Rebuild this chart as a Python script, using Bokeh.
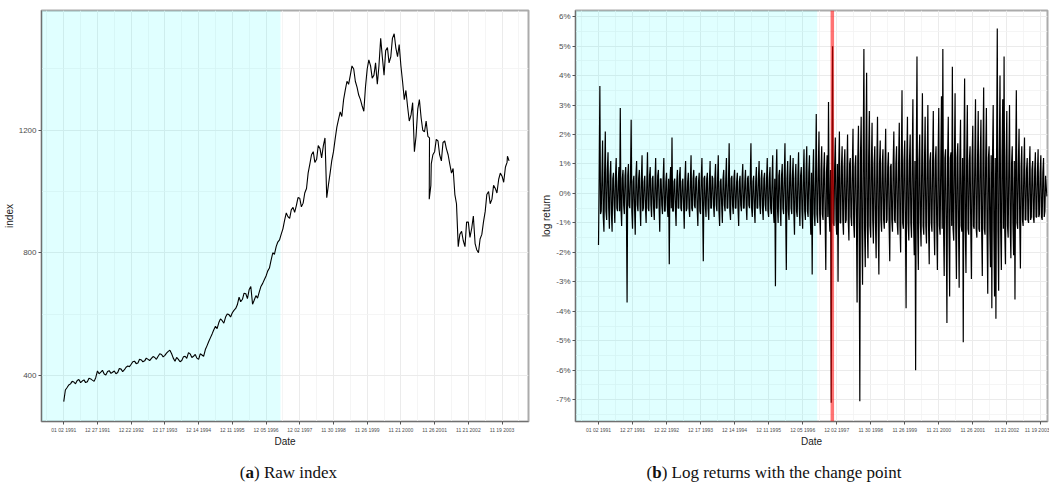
from bokeh.plotting import figure
from bokeh.models import FixedTicker, Span, Div, Range1d, BoxAnnotation
from bokeh.layouts import column, row
from bokeh.embed import file_html
from bokeh.resources import INLINE

# ---------------- data ----------------
tick_days = [0, 250, 500, 750, 1000, 1250, 1500, 1750, 2000, 2250, 2500, 2750, 3000, 3250]
tick_labels = ["01 02 1991", "12 27 1991", "12 22 1992", "12 17 1993", "12 14 1994",
               "12 11 1995", "12 05 1996", "12 02 1997", "11 30 1998", "11 26 1999",
               "11 21 2000", "11 26 2001", "11 21 2002", "11 19 2003"]
shade_end_day = 1607
change_day = 1718

index_days = [0, 25, 50, 75, 100, 125, 150, 175, 200, 225, 250, 275, 300, 325, 350, 375, 400,
              425, 450, 475, 500, 525, 550, 575, 600, 625, 650, 675, 700, 725, 750, 775, 800,
              825, 850, 875, 900, 925, 950, 975, 1000, 1025, 1050, 1075, 1100, 1125, 1150,
              1175, 1200, 1225, 1250, 1275, 1300, 1325, 1350, 1375, 1400, 1425, 1450, 1475,
              1500, 1525, 1550, 1575, 1600, 1625, 1650, 1675, 1700, 1725, 1750, 1775, 1800,
              1825, 1850, 1875, 1900, 1925, 1950, 1975, 2000, 2025, 2050, 2075, 2100, 2125,
              2150, 2175, 2200, 2225, 2250, 2275, 2300, 2325, 2350, 2375, 2400, 2425, 2450,
              2475, 2500, 2525, 2550, 2575, 2600, 2625, 2650, 2675, 2700, 2710, 2725, 2750,
              2775, 2800, 2825, 2850, 2875, 2900, 2925, 2950, 2975, 3000, 3025, 3050, 3075,
              3100, 3125, 3150, 3175, 3200, 3225, 3250, 3275, 3290]
index_values = [314, 360, 372, 378, 383, 376, 385, 379, 388, 380, 414, 410, 404, 412, 406, 414,
                409, 420, 418, 430, 436, 446, 440, 450, 447, 452, 455, 458, 462, 468, 465, 478,
                470, 446, 452, 448, 462, 474, 458, 468, 452, 466, 484, 510, 535, 560, 572, 578,
                590, 598, 604, 618, 655, 648, 666, 680, 632, 660, 672, 700, 724, 750, 800, 820,
                842, 878, 930, 912, 948, 955, 978, 962, 1010, 1090, 1130, 1105, 1140, 1150,
                980, 1060, 1130, 1210, 1260, 1300, 1360, 1380, 1400, 1340, 1300, 1262, 1400,
                1410, 1380, 1350, 1500, 1380, 1470, 1440, 1515, 1440, 1410, 1300, 1275, 1250,
                1130, 1270, 1240, 1195, 1180, 975, 1090, 1130, 1165, 1100, 1165, 1120, 1060,
                990, 820, 870, 820, 900, 880, 830, 800, 860, 935, 1000, 975, 1010, 1040, 1050,
                1080, 1115]
# in-between readings (index at day + 12), showing the short-term wiggles
index_mid = [352, 368, 380, 372, 386, 381, 376, 390, 384, 392, 405, 416, 401, 415, 410, 405,
             422, 412, 426, 428, 444, 438, 452, 444, 456, 448, 461, 452, 470, 460, 472, 482,
             456, 458, 444, 460, 455, 470, 462, 456, 470, 462, 496, 522, 548, 552, 584, 570,
             600, 590, 612, 630, 640, 668, 650, 690, 645, 652, 690, 712, 740, 775, 795, 835,
             860, 905, 918, 940, 932, 980, 950, 995, 1060, 1120, 1095, 1150, 1110, 1175, 1020,
             1100, 1170, 1235, 1245, 1330, 1350, 1410, 1360, 1315, 1280, 1340, 1430, 1370,
             1420, 1410, 1440, 1460, 1420, 1500, 1470, 1480, 1360, 1330, 1230, 1290, 1180,
             1300, 1200, 1230, 1175, 1020, 1120, 1170, 1120, 1160, 1140, 1090, 1075, 960, 860,
             840, 900, 850, 920, 810, 845, 900, 990, 960, 1020, 995, 1060, 1030, 1095, 1100]

# daily log returns in percent, one reading every 10 trading days ...
ret_pct = [
    -1.75, 3.65, -0.6, 1.8, -1.3, 2.1, -0.9, 1.4, -1.2, 1.1,
    -1.3, 0.7, -1.0, 1.2, -0.6, 0.9, 2.9, -1.1, 0.8, -0.7,
    0.9, -3.7, 1.0, -0.5, 2.5, -1.2, 0.6, -1.4, 1.1, -0.6,
    0.8, -1.1, 1.3, -0.5, 0.6, -1.0, 1.4, -0.6, 0.9, -0.8,
    0.6, -0.9, 1.2, -0.5, 0.8, -1.3, 0.5, -0.7, 1.2, -0.6,
    0.7, -0.8, -2.4, 0.9, 1.9, -0.6, 0.5, -1.1, 0.8, -0.5,
    0.9, -0.6, 0.5, -1.2, 1.1, -0.5, 0.7, -0.8, 1.3, -0.6,
    0.8, -0.5, 0.6, -1.1, 0.7, -0.7, 1.2, -2.3, 0.6, -0.8,
    0.7, -0.9, 1.1, -0.5, 0.5, -0.8, 1.0, -0.6, 1.3, -1.1,
    0.5, -1.0, 0.8, -0.6, 1.2, -0.5, 1.7, -0.9, 0.6, -0.7,
    0.8, -0.5, 0.7, -1.1, 0.6, -0.6, 1.0, -0.5, 0.8, -0.9,
    0.6, -0.5, 1.7, -0.8, 0.6, -1.0, 0.9, -0.5, 1.1, -0.7,
    0.8, -0.9, 0.7, -0.6, 1.2, -0.8, 0.9, -0.7, 1.3, -1.0,
    -3.15, 1.5, -1.0, 0.8, -1.1, 1.0, -0.7, 1.7, -2.6, 1.1,
    -0.9, 1.3, -0.7, 1.2, -1.4, 1.0, -0.8, 1.4, -1.1, 0.9,
    -1.2, 1.5, -0.9, 1.6, -0.8, 1.3, -1.4, -2.75, 1.5, -1.1,
    2.7, -1.0, 2.1, -1.4, 1.6, -0.9, 1.4, -2.6, 1.3, 3.1,
    -1.3, -7.1, 5.0, -1.1, 1.9, -1.4, -3.0, 2.1, -1.0, 1.6,
    -1.4, 1.5, -0.9, 2.0, -1.6, 1.2, -1.1, 2.2, -1.5, 1.3,
    -3.7, 2.3, -7.05, 2.6, -3.1, 4.9, -2.5, 4.1, -2.2, 2.8,
    -1.5, 2.4, -1.7, 1.6, -2.2, 2.6, -2.75, 1.8, -1.3, 1.5,
    -1.2, 2.2, -0.9, 1.4, -2.3, 1.0, -1.3, 2.1, -1.0, 1.6,
    -1.4, 2.4, -2.0, 3.5, -1.2, 1.8, -3.9, 2.6, -1.6, 2.0,
    -1.5, 3.2, -2.1, -6.0, 4.65, -2.6, 2.0, -1.8, 3.4, -1.4,
    2.6, -1.7, 3.0, -2.4, 1.4, -1.3, 2.8, -2.1, 1.6, -2.6,
    2.9, -1.4, 3.3, 4.9, -2.8, 1.5, -4.4, 2.6, -3.5, 1.4,
    4.3, -1.6, 3.4, -2.9, 1.7, -3.2, 2.5, -1.3, -5.05, 3.9,
    -2.7, 3.0, -1.4, 1.6, -2.9, 2.3, -1.2, 3.2, -1.5, 2.8,
    -1.3, 2.5, -2.8, 3.6, -1.4, 2.9, -3.4, 1.6, -2.5, -3.9,
    3.0, -3.5, -4.25, 5.6, -3.3, 4.0, -2.6, 3.2, 4.65, -2.4,
    2.8, -1.5, 3.0, -2.2, 1.6, -2.1, -3.6, 3.5, -1.2, 2.2,
    -2.55, 1.6, -1.1, 1.9, -0.9, 1.2, -1.0, 1.6, -0.8, 1.1,
    -1.0, 1.4, -0.8, 1.5, -0.7, 1.3, -0.9, 1.2, -0.6, 0.2,
]
# ... and the readings 5 trading days later (the dense core of the band)
ret_mid_pct = [
    0.6, -0.7, 0.5, -0.8, 0.7, -0.6, 0.8, -0.5, 0.6, -0.7,
    0.5, -0.4, 0.6, -0.5, 0.4, -0.6, -0.5, 0.5, -0.4, 0.6,
    -0.5, 0.6, -0.4, 0.5, -0.6, 0.4, -0.5, 0.6, -0.4, 0.5,
    -0.4, 0.5, -0.6, 0.4, -0.5, 0.4, -0.5, 0.6, -0.4, 0.5,
    -0.5, 0.4, -0.5, 0.6, -0.4, 0.5, -0.4, 0.5, -0.6, 0.4,
    -0.4, 0.5, 0.4, -0.5, -0.6, 0.4, -0.5, 0.4, -0.5, 0.6,
    -0.5, 0.4, -0.4, 0.5, -0.6, 0.4, -0.5, 0.4, -0.5, 0.5,
    -0.4, 0.5, -0.5, 0.4, -0.6, 0.5, -0.4, 0.5, -0.4, 0.5,
    -0.5, 0.4, -0.5, 0.6, -0.4, 0.5, -0.4, 0.5, -0.6, 0.4,
    -0.4, 0.5, -0.4, 0.5, -0.5, 0.4, -0.6, 0.5, -0.4, 0.5,
    -0.5, 0.4, -0.5, 0.4, -0.4, 0.5, -0.5, 0.4, -0.4, 0.5,
    -0.4, 0.5, -0.5, 0.4, -0.5, 0.4, -0.5, 0.5, -0.4, 0.5,
    -0.5, 0.5, -0.4, 0.5, -0.6, 0.5, -0.5, 0.4, -0.6, 0.5,
    0.6, -0.5, 0.6, -0.5, 0.6, -0.5, 0.6, -0.6, 0.5, -0.6,
    0.6, -0.5, 0.6, -0.6, 0.5, -0.6, 0.6, -0.5, 0.6, -0.6,
    0.6, -0.6, 0.7, -0.6, 0.7, -0.6, 0.7, 0.6, -0.7, 0.6,
    -0.7, 0.8, -0.7, 0.8, -0.7, 0.8, -0.8, 0.7, -0.8, -0.7,
    0.8, 1.0, -1.0, 0.9, -0.9, 1.0, 0.9, -1.0, 0.9, -0.9,
    0.9, -1.0, 0.8, -0.9, 1.0, -0.8, 0.9, -1.0, 0.9, -0.8,
    1.1, -1.2, 1.3, -1.2, 1.3, -1.2, 1.3, -1.1, 1.2, -1.1,
    1.0, -0.9, 1.0, -1.0, 0.9, -1.0, 1.0, -0.9, 1.0, -0.9,
    0.9, -1.0, 0.9, -1.0, 0.9, -0.9, 1.0, -0.9, 1.0, -1.0,
    1.0, -1.1, 1.0, -1.0, 1.1, -1.0, 1.1, -1.0, 1.1, -1.0,
    1.1, -1.0, 1.1, 1.2, -1.2, 1.1, -1.0, 1.1, -1.1, 1.0,
    -1.1, 1.0, -1.1, 1.1, -1.0, 1.1, -1.0, 1.1, -1.0, 1.1,
    -1.1, 1.1, -1.2, -1.1, 1.2, -1.1, 1.2, -1.1, 1.2, -1.1,
    -1.2, 1.1, -1.2, 1.2, -1.1, 1.2, -1.1, 1.2, 1.2, -1.2,
    1.1, -1.2, 1.1, -1.1, 1.2, -1.1, 1.1, -1.2, 1.1, -1.2,
    1.2, -1.2, 1.3, -1.2, 1.2, -1.3, 1.2, -1.2, 1.3, 1.2,
    -1.3, 1.2, 1.3, -1.3, 1.2, -1.3, 1.2, -1.2, -1.3, 1.2,
    -1.1, 1.0, -1.1, 1.0, -1.0, 1.1, 1.0, -1.0, 1.0, -1.0,
    0.9, -0.9, 0.8, -0.9, 0.8, -0.9, 0.8, -0.9, 0.8, -0.8,
    0.8, -0.8, 0.7, -0.8, 0.7, -0.8, 0.7, -0.8, 0.6, -0.1,
]

index_ticks = [400, 800, 1200]
index_minor = [200, 600, 1000, 1400]
pct_ticks = [-7, -6, -5, -4, -3, -2, -1, 0, 1, 2, 3, 4, 5, 6]
pct_minor = [-7.5, -6.5, -5.5, -4.5, -3.5, -2.5, -1.5, -0.5, 0.5, 1.5, 2.5, 3.5, 4.5, 5.5]

# merge the readings in time order
idx_x, idx_y = [], []
for i, (d, v) in enumerate(zip(index_days, index_values)):
    idx_x.append(d)
    idx_y.append(v)
    if i < len(index_mid):
        idx_x.append(d + 12)
        idx_y.append(index_mid[i])

ret_x, ret_y = [], []
for i, (a, b) in enumerate(zip(ret_pct, ret_mid_pct)):
    ret_x += [10 * i, 10 * i + 5]
    ret_y += [a, b]

x_minor = [d - 125 for d in tick_days] + [tick_days[-1] + 125]
FONT = "Liberation Sans"


def style(p, ylabel):
    p.xaxis.ticker = FixedTicker(ticks=tick_days, minor_ticks=x_minor)
    p.xaxis.major_label_overrides = {d: s for d, s in zip(tick_days, tick_labels)}
    for ax in (p.xaxis[0], p.yaxis[0]):
        ax.axis_line_color = "#707070"
        ax.axis_line_width = 1
        ax.major_tick_line_color = "#555555"
        ax.major_tick_out = 3
        ax.major_tick_in = 0
        ax.minor_tick_line_color = None
        ax.major_label_text_color = "#4D4D4D"
        ax.major_label_text_font = FONT
        ax.axis_label_text_font = FONT
        ax.axis_label_text_font_style = "normal"
        ax.axis_label_text_color = "#1A1A1A"
        ax.axis_label_text_font_size = "10px"
        ax.major_label_standoff = 1
        ax.axis_label_standoff = 1
    p.xaxis.axis_label_standoff = 0
    p.xaxis.major_label_text_font_size = "5px"
    p.yaxis.major_label_text_font_size = "8px"
    p.xaxis.axis_label = "Date"
    p.yaxis.axis_label = ylabel
    for g in (p.xgrid[0], p.ygrid[0]):
        g.grid_line_color = "#EBEBEB"
        g.grid_line_width = 1
        g.minor_grid_line_color = "#F3F3F3"
        g.minor_grid_line_width = 0.8
    p.outline_line_color = "#ABABAB"
    p.outline_line_width = 2
    p.background_fill_color = "white"
    p.border_fill_color = "white"


# ---------------- panel (a) ----------------
pa = figure(frame_width=487, frame_height=411, output_backend="svg", toolbar_location=None,
            x_range=Range1d(-165, 3446), y_range=Range1d(249, 1591),
            min_border_left=35, min_border_right=10, min_border_top=10, min_border_bottom=20)
style(pa, "index")
pa.yaxis.ticker = FixedTicker(ticks=index_ticks, minor_ticks=index_minor)
pa.add_layout(BoxAnnotation(right=shade_end_day, fill_color="cyan", fill_alpha=0.12,
                            line_color=None, level="underlay"))
pa.line(idx_x, idx_y, line_color="black", line_width=1.1)

# ---------------- panel (b) ----------------
pb = figure(frame_width=472, frame_height=411, output_backend="svg", toolbar_location=None,
            x_range=Range1d(-169, 3299), y_range=Range1d(-7.74, 6.21),
            min_border_left=36, min_border_right=2, min_border_top=10, min_border_bottom=20)
style(pb, "log return")
pb.yaxis.ticker = FixedTicker(ticks=pct_ticks, minor_ticks=pct_minor)
pb.yaxis.major_label_overrides = {v: f"{v}%" for v in pct_ticks}
pb.add_layout(BoxAnnotation(right=shade_end_day, fill_color="cyan", fill_alpha=0.12,
                            line_color=None, level="underlay"))
pb.line(ret_x, ret_y, line_color="black", line_width=1.2)
pb.add_layout(Span(location=change_day, dimension="height", line_color="red",
                   line_alpha=0.55, line_width=3.5))

cap_style = ("padding-top:12px;text-align:center;font-family:'Liberation Serif',serif;"
             "font-size:17px;color:#111;")
cap_a = Div(text=f'<div style="width:577px;{cap_style}">(<b>a</b>) Raw index</div>',
            width=577, height=40, margin=0)
cap_b = Div(text=f'<div style="width:394px;{cap_style}">(<b>b</b>) Log returns with the change point</div>',
            width=394, height=40, margin=0)

layout = column(row(pa, pb), row(cap_a, cap_b))
open("out.html", "w").write(file_html(layout, INLINE))
